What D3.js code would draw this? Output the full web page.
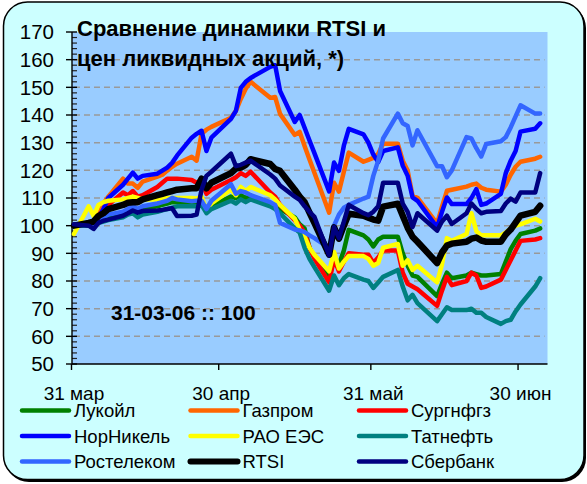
<!DOCTYPE html>
<html>
<head>
<meta charset="utf-8">
<script src="https://cdn.jsdelivr.net/npm/d3@7"></script>
<style>
body { margin: 0; background: #fff; }
svg { display: block; }
text { font-family: "Liberation Sans", Arial, sans-serif; }
</style>
</head>
<body>
<svg id="chart" width="587" height="484"></svg>
<script>
// DATA (31-03-06 = 100)
var dates = ["2006-03-31","2006-04-03","2006-04-04","2006-04-05","2006-04-06","2006-04-07",
    "2006-04-10","2006-04-11","2006-04-12","2006-04-13","2006-04-14","2006-04-17","2006-04-18",
    "2006-04-19","2006-04-20","2006-04-21","2006-04-24","2006-04-25","2006-04-26","2006-04-27",
    "2006-04-28","2006-05-02","2006-05-03","2006-05-04","2006-05-05","2006-05-06","2006-05-10",
    "2006-05-11","2006-05-12","2006-05-15","2006-05-16","2006-05-17","2006-05-18","2006-05-19",
    "2006-05-22","2006-05-23","2006-05-24","2006-05-25","2006-05-26","2006-05-29","2006-05-30",
    "2006-05-31","2006-06-01","2006-06-02","2006-06-05","2006-06-06","2006-06-07","2006-06-08",
    "2006-06-09","2006-06-13","2006-06-14","2006-06-15","2006-06-16","2006-06-19","2006-06-20",
    "2006-06-21","2006-06-22","2006-06-23","2006-06-26","2006-06-27","2006-06-28","2006-06-29",
    "2006-06-30","2006-07-03","2006-07-04"];

var lukoil = [100,100.5,100,102.5,103,103.5,104.5,105,106,105,106,107,107.5,108,108.5,108.5,
    108.5,108.5,109.5,105.5,107,110.5,110,111,110,110.5,108,107,106,103,100.5,99,92,88.5,
    81.5,88,86,91,98.5,96.5,95,92.5,95,96,96,90,85.5,82,81.5,74.5,79,83,81,82,83,82.5,82,
    82,82.5,87,91.5,94.5,97,98.2,99];
var gazprom = [100,101,100,104,108,110.5,117,115.2,115.2,113.7,115.9,117.7,118.4,119.9,121.3,
    122.4,124.9,123.5,133.2,134.7,135.7,139,141.5,145.8,149.5,152,146.2,146.5,140.4,132.8,
    133.9,128.8,123.9,119.1,104.7,115.5,112.3,119.5,126.4,123.1,123.8,124.5,126,129.6,129.6,
    123.5,119.9,110.8,110.1,100.7,106.9,112.6,113,114.1,114.8,115.2,113.7,113,112.3,114.8,
    118.4,121.3,123.1,124.2,124.9];
var surgut = [100,101,100,103.5,105.5,107.5,112,111,112.5,110.5,111,114,115.5,117,117,117,
    116.5,115.5,116.5,111.5,113,116.5,117.5,119,118,119.5,112,110.5,107.5,102,100,97.5,92,
    88,79.5,88,83.5,87,90,89.5,89.5,86.5,88.5,91,91,83,79,78,77,71,76.5,81.5,78.5,80,83,82,
    77.5,78,80.5,84,87.5,91,94.5,95,95.5];
var nornickel = [100,100.5,99.5,103,106,110,114.8,117,119.2,117,118,118.8,119.9,121,122.7,
    125.3,131.8,133.2,134.3,127,131.8,138.6,141.5,149.8,152,153.4,157.4,158,148.7,137.5,140,
    135.4,130.8,126.2,112.4,122.8,119.8,128.9,135,133,130,125.7,123,127,128.3,121.7,118,
    110.2,109,99.4,105,110.2,107.8,107.8,110,113.2,107.5,108,111.5,119,123.5,127,134,135,137];
var raoEes = [97,107,103.5,107.5,108.5,109,109.5,110,110.5,110,109.5,109.5,109.8,110,110,110,
    110,109.8,110.5,105.5,108,113,111,114,112.5,114,111,109.5,107.5,102.5,98.5,96,92,89.5,
    83.5,90.5,84.5,87,89,89,88,85.5,86.5,92,93.4,85.5,87.5,84,85.5,79.5,86,95.5,94.5,97,
    104.5,98,96.5,96.5,96.5,97.5,99,100,100.5,102.5,101.5];
var tatneft = [100,100,99.5,101,101.5,102,103,104,104.5,103,104,105,105.5,106,106.5,107,107,
    107,107.5,104.5,106,109,108,109.5,108.5,109.5,107,106,104.5,99,97.5,92,88,85,76.5,82,
    78.5,81,82.5,80.5,80,77.5,79.5,81.5,84,78,73,75,72,65.5,68,70.5,69.5,69.5,70,68.5,68.5,
    67,64.5,65.5,66,69,71.5,78,81];
var rostelecom = [100,100.5,100.5,102,103,104,105,106,107,106,107,108,108.5,109,110,109.5,
    108.8,109,109,106,109,115,111.5,112.5,112,111,108.5,107.5,101,98.6,98.3,97.7,96.5,95.5,
    92,100,104,106.5,107.5,109.8,110.5,118,123.5,131.5,140.5,137,136,129,134.5,121.5,121.5,
    117.5,120,132,131.5,128,125,129.5,130.5,132,135.5,139.5,143.5,140.5,140.5];
var rtsi = [100,101,101.5,103.5,104.5,106,107.5,108.3,108.5,108.5,109.5,111,111.5,112,112.5,
    113,113.5,113.5,117,113.5,115.5,119,120.6,121,122,124,122.3,120.5,119.8,113,110.5,108.5,
    104.7,101,89.5,99.4,95.3,100,104.3,103.6,102.9,102.2,101.8,106.9,107.9,103.6,99.3,96,
    94.2,86.5,90.3,92.8,93.5,94.2,95.3,95.7,94.6,94.2,94.2,96.8,98.6,101.1,103.6,105,107.2];
var sberbank = [100.5,100,98.8,101,101.8,102.2,103.6,104.5,105.5,104.7,105.3,105.5,105.7,106,
    106.3,103.5,103.6,104,113,118,119.5,126,121.5,122,122.8,123.5,118.5,117,114.5,110.5,
    109.3,107,105,103.2,89.3,99.5,95.5,101.5,107.5,104.5,103.8,105,107,115.5,115.5,108,105,
    99.5,104.5,98.2,101.5,103.6,100.6,104.5,108,106,104.5,105,105.3,108,109.8,108.7,112,
    112,119];

var seriesNames = ["Лукойл", "Газпром", "Сургнфгз", "НорНикель", "РАО ЕЭС", "Татнефть",
    "Ростелеком", "RTSI", "Сбербанк"];
var seriesValues = [lukoil, gazprom, surgut, nornickel, raoEes, tatneft, rostelecom, rtsi, sberbank];
var seriesColors = ["#008000", "#FF6600", "#FF0000", "#0000FF", "#FFFF00", "#008080",
    "#3366FF", "#000000", "#000080"];

var yTicks = [50, 60, 70, 80, 90, 100, 110, 120, 130, 140, 150, 160, 170];
var xTickDates = ["2006-03-31", "2006-04-30", "2006-05-31", "2006-06-30"];
var xTickLabels = ["31 мар", "30 апр", "31 май", "30 июн"];
var axisStart = "2006-03-31", axisEnd = "2006-07-06";

var titleLines = ["Сравнение динамики RTSI и", "цен ликвидных акций, *)"];
var baseNote = "31-03-06 :: 100";

// SETUP
var parseTime = d3.timeParse("%Y-%m-%d");
var halfDay = 12 * 3600 * 1000;   // points sit in the middle of their day
var svg = d3.select("#chart");

var plot = { left: 72, right: 547.5, top: 32, bottom: 364 };

var x = d3.scaleTime()
    .domain([parseTime(axisStart), parseTime(axisEnd)])
    .range([71.5, plot.right]);
var y = d3.scaleLinear()
    .domain([50, 170])
    .range([plot.bottom, plot.top]);

// Frame
svg.append("rect")
    .attr("x", 5).attr("y", 4).attr("width", 581).attr("height", 478)
    .attr("rx", 24).attr("fill", "#000");
svg.append("rect")
    .attr("x", 3.5).attr("y", 2).attr("width", 580.5).attr("height", 477.5)
    .attr("rx", 24).attr("fill", "#CCFFFF")
    .attr("stroke", "#000").attr("stroke-width", 1.5);

// Plot area
svg.append("rect")
    .attr("x", plot.left).attr("y", plot.top)
    .attr("width", plot.right - plot.left).attr("height", plot.bottom - plot.top)
    .attr("fill", "#99CCFF");

// Gridlines
svg.append("g").selectAll("line")
    .data(yTicks.filter(d => d > 50 && d < 170))
    .enter().append("line")
        .attr("x1", plot.left + 2).attr("x2", plot.right - 3)
        .attr("y1", d => y(d)).attr("y2", d => y(d))
        .attr("stroke", "#999").attr("stroke-width", 1.5)
        .attr("stroke-dasharray", "6,4");

// Y axis: minor ticks inside, majors crossing
var minor = d3.range(52, 170, 2).filter(d => d % 10 != 0);
var yAxis = svg.append("g");
yAxis.selectAll(".minor")
    .data(minor)
    .enter().append("line")
        .attr("x1", plot.left).attr("x2", plot.left + 5)
        .attr("y1", d => y(d)).attr("y2", d => y(d))
        .attr("stroke", "#222").attr("stroke-width", 1.2);
yAxis.selectAll(".major")
    .data(yTicks)
    .enter().append("line")
        .attr("x1", plot.left - 6).attr("x2", plot.left + 5)
        .attr("y1", d => y(d)).attr("y2", d => y(d))
        .attr("stroke", "#000").attr("stroke-width", 1.4);
yAxis.selectAll("text")
    .data(yTicks)
    .enter().append("text")
        .attr("x", 54).attr("y", d => y(d))
        .attr("dy", "0.36em")
        .attr("text-anchor", "end")
        .style("font-size", "20.5px")
        .text(d => d);
yAxis.append("line")
    .attr("x1", plot.left).attr("x2", plot.left)
    .attr("y1", plot.top).attr("y2", plot.bottom)
    .attr("stroke", "#000").attr("stroke-width", 1.4);

// X axis
var xAxis = svg.append("g");
xAxis.append("line")
    .attr("x1", plot.left).attr("x2", plot.right)
    .attr("y1", plot.bottom).attr("y2", plot.bottom)
    .attr("stroke", "#000").attr("stroke-width", 1.4);
xAxis.selectAll(".tick")
    .data(xTickDates)
    .enter().append("line")
        .attr("x1", d => x(parseTime(d))).attr("x2", d => x(parseTime(d)))
        .attr("y1", plot.bottom).attr("y2", plot.bottom + 6)
        .attr("stroke", "#000").attr("stroke-width", 1.4);
xAxis.selectAll("text")
    .data(xTickDates)
    .enter().append("text")
        .attr("x", d => x(new Date(+parseTime(d) + halfDay)))
        .attr("y", 400)
        .attr("text-anchor", "middle")
        .style("font-size", "19px")
        .text((d, i) => xTickLabels[i]);

// Lines
var line = d3.line()
    .x((d, i) => x(new Date(+parseTime(dates[i]) + halfDay)))
    .y(d => y(d));

svg.append("g").selectAll("path")
    .data(seriesValues)
    .enter().append("path")
        .attr("d", d => line(d))
        .attr("fill", "none")
        .attr("stroke", (d, i) => seriesColors[i])
        .attr("stroke-width", (d, i) => seriesNames[i] == "RTSI" ? 6.5 : 4.5)
        .attr("stroke-linejoin", "round")
        .attr("stroke-linecap", "round");

// Title and note
svg.append("text")
    .attr("x", 77).attr("y", 36)
    .style("font-size", "22px").style("font-weight", "bold")
    .text(titleLines[0]);
svg.append("text")
    .attr("x", 77).attr("y", 66)
    .style("font-size", "22px").style("font-weight", "bold")
    .text(titleLines[1]);
svg.append("text")
    .attr("x", 111).attr("y", 320)
    .style("font-size", "21px").style("font-weight", "bold")
    .text(baseNote);

// Legend: three columns, filled row by row
var legendCols = [20, 188.5, 357];
var legendRows = [410.5, 436, 461.5];
var legend = svg.append("g").selectAll("g")
    .data(seriesNames)
    .enter().append("g")
        .attr("transform", (d, i) => "translate(" + legendCols[i % 3] + "," + legendRows[Math.floor(i / 3)] + ")");
legend.append("line")
    .attr("x1", 2).attr("x2", 49)
    .attr("stroke", (d, i) => seriesColors[i])
    .attr("stroke-width", (d) => d == "RTSI" ? 6 : 4.5)
    .attr("stroke-linecap", "round");
legend.append("text")
    .attr("x", 54).attr("dy", "0.36em")
    .style("font-size", "18.5px")
    .text(d => d);
</script>
</body>
</html>
